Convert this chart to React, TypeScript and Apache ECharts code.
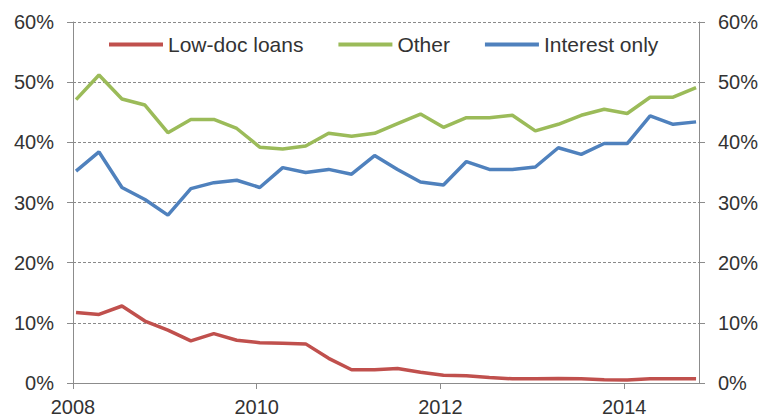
import React, { useEffect, useRef } from "react";
import * as echarts from "echarts";

const quarters = [
  "2008Q1", "2008Q2", "2008Q3", "2008Q4",
  "2009Q1", "2009Q2", "2009Q3", "2009Q4",
  "2010Q1", "2010Q2", "2010Q3", "2010Q4",
  "2011Q1", "2011Q2", "2011Q3", "2011Q4",
  "2012Q1", "2012Q2", "2012Q3", "2012Q4",
  "2013Q1", "2013Q2", "2013Q3", "2013Q4",
  "2014Q1", "2014Q2", "2014Q3", "2014Q4",
];

const lowDoc = [
  11.7, 11.4, 12.8, 10.3, 8.8, 7.0, 8.2, 7.1, 6.7, 6.6, 6.5, 4.1, 2.2, 2.2,
  2.4, 1.8, 1.3, 1.2, 0.9, 0.7, 0.7, 0.75, 0.7, 0.55, 0.5, 0.7, 0.7, 0.7,
];

const other = [
  47.1, 51.2, 47.2, 46.2, 41.6, 43.8, 43.8, 42.3, 39.2, 38.9, 39.4, 41.5, 41.0, 41.5,
  43.1, 44.7, 42.5, 44.1, 44.1, 44.5, 41.9, 43.0, 44.5, 45.5, 44.8, 47.5, 47.5, 49.1,
];

const interestOnly = [
  35.2, 38.4, 32.5, 30.5, 27.9, 32.3, 33.3, 33.7, 32.5, 35.8, 35.0, 35.5, 34.7, 37.8,
  35.5, 33.4, 32.9, 36.8, 35.5, 35.5, 35.9, 39.1, 38.0, 39.8, 39.8, 44.4, 43.0, 43.4,
];

const yearTicks = [2008, 2010, 2012, 2014];
const seriesNames = ["Low-doc loans", "Other", "Interest only"];

const toYear = (q: string) => {
  const y = parseInt(q.slice(0, 4), 10);
  const n = parseInt(q.slice(5), 10);
  return y + (n - 1) * 0.25 + 0.033;
};

const FONT = "'Liberation Sans', Arial, sans-serif";
const TXT = "#333333";
const AX = "#8c8c8c";

export default function App() {
  const ref = useRef<HTMLDivElement>(null);
  useEffect(() => {
    if (!ref.current) return;
    const chart = echarts.init(ref.current, null, { renderer: "svg" });
    const xs = quarters.map(toYear);
    const mk = (vals: number[]) => vals.map((v, i) => [xs[i], v]);
    const yAxisBase = {
      type: "value",
      min: 0,
      max: 60,
      interval: 10,
      axisLine: { show: true, lineStyle: { color: AX, width: 1 } },
      axisTick: { show: true, length: 6, lineStyle: { color: AX } },
      axisLabel: {
        formatter: "{value}%",
        fontSize: 20,
        fontFamily: FONT,
        color: TXT,
        margin: 19,
      },
    };
    chart.setOption({
      animation: false,
      backgroundColor: "#ffffff",
      grid: {
        left: 73,
        right: 63,
        top: 22,
        bottom: 35,
        containLabel: false,
        outerBoundsMode: "none",
      },
      legend: {
        data: seriesNames,
        left: 104,
        top: 29,
        icon: "rect",
        itemWidth: 54,
        itemHeight: 4,
        itemGap: 35,
        textStyle: { fontSize: 21, fontFamily: FONT, color: TXT },
      },
      xAxis: {
        type: "value",
        min: 2008,
        max: 2014.815,
        interval: 2,
        splitLine: { show: false },
        axisLine: { show: true, lineStyle: { color: AX, width: 1 } },
        axisTick: { show: true, length: 6, lineStyle: { color: AX }, customValues: yearTicks },
        axisLabel: {
          customValues: yearTicks,
          formatter: (v: number) => String(v),
          fontSize: 20,
          fontFamily: FONT,
          color: TXT,
          margin: 14,
        },
      },
      yAxis: [
        {
          ...yAxisBase,
          position: "left",
          splitLine: { show: true, lineStyle: { color: "#8a8a8a", type: [3, 2], width: 1 } },
        },
        {
          ...yAxisBase,
          position: "right",
          splitLine: { show: false },
        },
      ],
      series: [
        {
          name: seriesNames[0],
          type: "line",
          data: mk(lowDoc),
          showSymbol: false,
          color: "#C0504D",
          lineStyle: { width: 3.5, color: "#C0504D" },
        },
        {
          name: seriesNames[1],
          type: "line",
          data: mk(other),
          showSymbol: false,
          color: "#9BBB59",
          lineStyle: { width: 3.5, color: "#9BBB59" },
        },
        {
          name: seriesNames[2],
          type: "line",
          data: mk(interestOnly),
          showSymbol: false,
          color: "#4F81BD",
          lineStyle: { width: 3.5, color: "#4F81BD" },
        },
      ],
    });
    return () => chart.dispose();
  }, []);
  return (
    <div
      ref={ref}
      style={{ position: "fixed", left: 0, top: 0, width: 762, height: 418 }}
    />
  );
}
